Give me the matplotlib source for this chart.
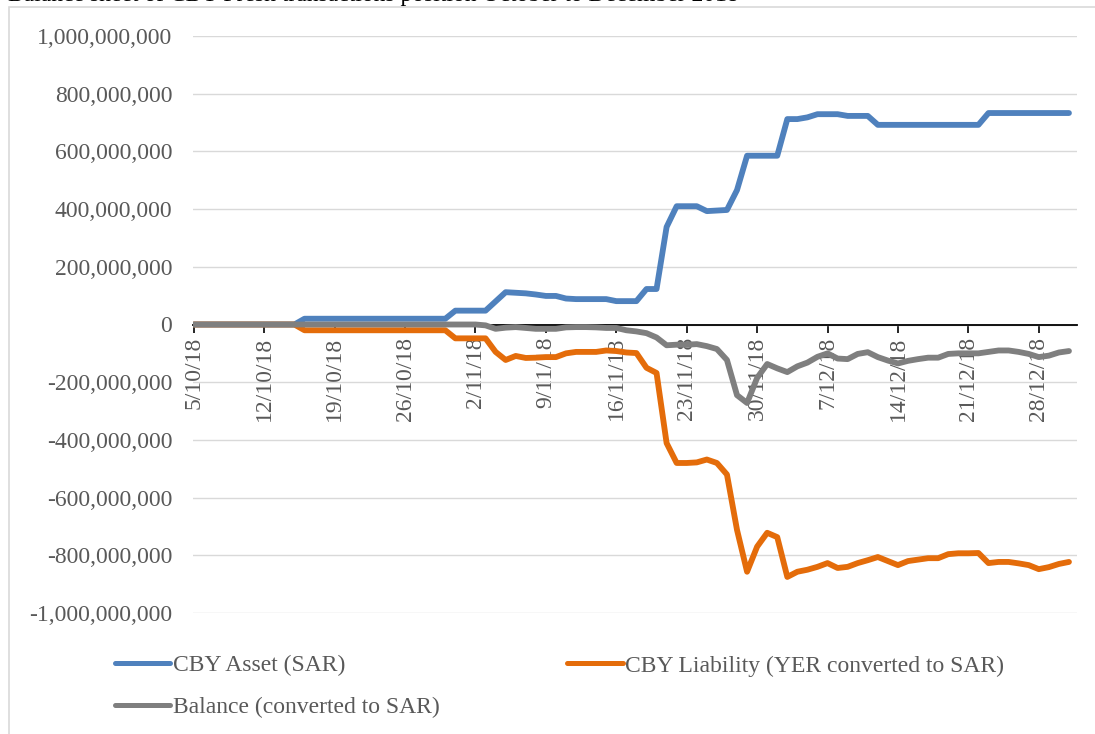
import numpy as np
import pandas as pd
import matplotlib
matplotlib.use("Agg")
import matplotlib.pyplot as plt
import matplotlib.dates as mdates
from matplotlib.patches import Rectangle
from matplotlib.ticker import FuncFormatter

# Daily positions, 5 Oct 2018 - 31 Dec 2018, in millions of SAR
dates = pd.date_range("2018-10-05", "2018-12-31", freq="D")

asset = ([0] * 11 + [20] * 15 + [48] * 4 +
         [80, 112, 110, 108, 104, 99, 99, 90, 88, 88, 88, 88, 81, 81, 81, 123, 123,
          338, 410, 410, 410, 393, 395, 397, 466, 585, 585, 585, 585, 712, 712, 718,
          729, 729, 729, 723, 723, 723] +
         [692] * 11 + [733] * 9)

liability = ([0] * 11 + [-20] * 15 + [-48] * 4 +
             [-95, -123, -109, -116, -115, -113, -113, -100, -95, -95, -95, -90, -92,
              -97, -99, -150, -168, -411, -480, -480, -478, -468, -480, -520, -712,
              -857, -770, -722, -737, -875, -857, -850, -840, -827, -844, -840, -827,
              -817] +
             [-806, -820, -834, -820, -815, -810, -810, -796, -793, -793, -792, -827,
              -823, -823, -828, -834, -848, -841, -830, -823])

balance = ([0] * 29 + [-3] +
           [-15, -11, -9, -12, -15, -15, -15, -10, -9, -9,
            -10, -12, -12, -20, -24, -30, -45, -72, -70, -70,
            -68, -75, -85, -123, -245, -272, -185, -137, -152, -165,
            -145, -132, -112, -100, -118, -120, -102, -96, -113, -125,
            -135, -126, -120, -115, -115, -102, -100, -100, -100, -95,
            -90, -90, -95, -102, -113, -108, -97, -92])

series_names = ["CBY Asset (SAR)", "CBY Liability (YER converted to SAR)",
                "Balance (converted to SAR)"]
series_colors = ["#4F81BD", "#E46C0A", "#7F7F7F"]
y_ticks = np.arange(-1_000_000_000, 1_000_000_001, 200_000_000)

TEXT_GREY = "#595959"
FONT = "Liberation Serif"
plt.rcParams["font.family"] = [FONT, "DejaVu Serif"]

fig = plt.figure(figsize=(10.95, 7.34), dpi=100)
W, H = 1095, 734
ax = fig.add_axes([193 / W, 1 - 613 / H, (1077 - 193) / W, (613 - 36) / H])

# chart frame and the clipped heading above it
fig.patches.append(Rectangle((9 / W, -0.1), 1.2, 1 - 7 / H + 0.1, transform=fig.transFigure,
                             fill=False, edgecolor="#D9D9D9", linewidth=1.2, zorder=0))
fig.text(8 / W, 1 - 0.5 / H,
         "Balance sheet of CBY Fresh transactions position October to December 2018",
         fontsize=17, color="black", ha="left", va="baseline")

lines = []
for values, name, color in zip([asset, liability, balance], series_names, series_colors):
    ln, = ax.plot(dates, np.array(values) * 1e6, color=color, linewidth=4.2,
                  solid_capstyle="round", solid_joinstyle="round", label=name, zorder=3)
    lines.append(ln)

ax.set_ylim(-1e9, 1e9)
ax.set_xlim(dates[0] - pd.Timedelta(hours=2), dates[0] + pd.Timedelta(days=87.8))
ax.set_yticks(y_ticks)
ax.yaxis.set_major_formatter(FuncFormatter(lambda v, _: f"{v:,.0f}"))
ax.grid(axis="y", color="#D9D9D9", linewidth=1.0, zorder=0)
ax.set_axisbelow(True)

for side in ["top", "right", "left", "bottom"]:
    ax.spines[side].set_visible(False)
ax.spines["bottom"].set_visible(True)
ax.spines["bottom"].set_position(("data", 0))
ax.spines["bottom"].set_color("black")
ax.spines["bottom"].set_linewidth(1.3)
ax.spines["bottom"].set_zorder(2)

ax.set_xticks(dates[::7])
ax.xaxis.set_major_formatter(FuncFormatter(
    lambda v, _: (lambda d: f"{d.day}/{d.month}/{d:%y}")(mdates.num2date(v))))
ax.tick_params(axis="x", direction="out", length=6, width=1.2, color="black",
               labelcolor=TEXT_GREY, labelsize=17, labelrotation=90, pad=3)
ax.tick_params(axis="y", length=0, labelcolor=TEXT_GREY, labelsize=17, pad=15)
for lbl in ax.get_xticklabels():
    lbl.set_va("top")

leg = fig.legend([lines[0], lines[2], lines[1]],
                 [series_names[0], series_names[2], series_names[1]],
                 ncol=2, loc="upper left", bbox_to_anchor=(115 / W, 1 - 655 / H),
                 frameon=False, fontsize=17, handlelength=2.35, handletextpad=0.1,
                 columnspacing=5.4, labelspacing=0.85, borderpad=0, borderaxespad=0)
for txt in leg.get_texts():
    txt.set_color(TEXT_GREY)
for h in leg.get_lines():
    h.set_linewidth(3.6)

fig.savefig("out.png", dpi=100)
